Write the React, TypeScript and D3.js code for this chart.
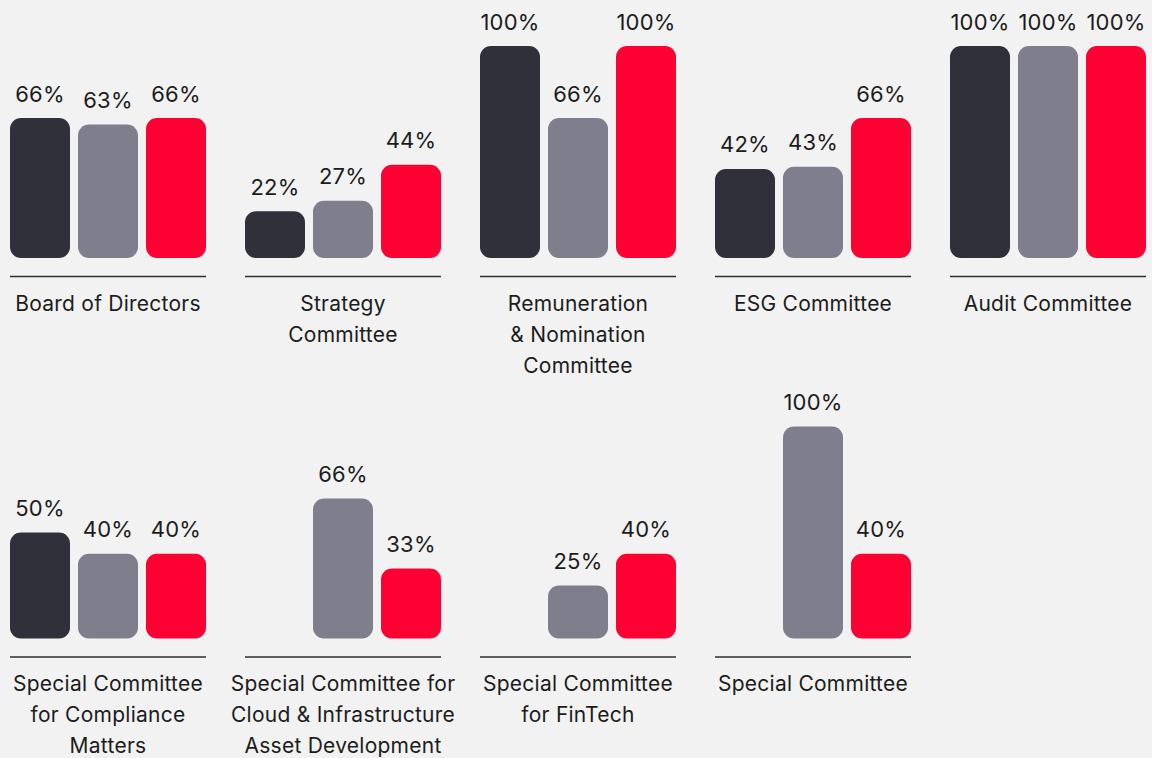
import React from "react";
import * as d3 from "d3";

const categories: string[][] = [
  ["Board of Directors"],
  ["Strategy", "Committee"],
  ["Remuneration", "& Nomination", "Committee"],
  ["ESG Committee"],
  ["Audit Committee"],
  ["Special Committee", "for Compliance", "Matters"],
  ["Special Committee for", "Cloud & Infrastructure", "Asset Development"],
  ["Special Committee", "for FinTech"],
  ["Special Committee"],
];

const seriesNames = ["A", "B", "C"];
const seriesA: (number | null)[] = [66, 22, 100, 42, 100, 50, null, null, null];
const seriesB: (number | null)[] = [63, 27, 66, 43, 100, 40, 66, 25, 100];
const seriesC: (number | null)[] = [66, 44, 100, 66, 100, 40, 33, 40, 40];
const seriesValues = [seriesA, seriesB, seriesC];
const colors = ["#30303a", "#7f7e8d", "#ff0033"];

const W = 1152;
const H = 758;
const FONT = "Inter, 'Noto Sans', sans-serif";

export default function App() {
  const perRow = 5;
  const groupW = 196;
  const pitch = 235;
  const left0 = 10;
  const rowBase = [258, 638.5];
  const barMax = 212;

  const x = d3
    .scaleBand<string>()
    .domain(seriesNames)
    .range([0, groupW])
    .paddingInner(8 / 68)
    .paddingOuter(0);
  const y = d3.scaleLinear().domain([0, 100]).range([0, barMax]);

  return (
    <svg
      width={W}
      height={H}
      style={{ position: "absolute", left: 0, top: 0, background: "#f2f2f2" }}
      fontFamily={FONT}
    >
      <rect x={0} y={0} width={W} height={H} fill="#f2f2f2" />
      {categories.map((lines, ci) => {
        const row = Math.floor(ci / perRow);
        const col = ci % perRow;
        const gx = left0 + col * pitch;
        const base = rowBase[row];
        return (
          <g key={ci} transform={`translate(${gx},0)`}>
            {seriesValues.map((vals, si) => {
              const v = vals[ci];
              if (v == null) return null;
              const bx = x(seriesNames[si])!;
              const bw = x.bandwidth();
              const h = y(v);
              return (
                <g key={si}>
                  <rect
                    x={bx}
                    y={base - h}
                    width={bw}
                    height={h}
                    rx={11}
                    ry={11}
                    fill={colors[si]}
                  />
                  <text
                    x={bx + bw / 2}
                    y={base - h - 16.5}
                    textAnchor="middle"
                    fontSize={22}
                    letterSpacing={0.2}
                    fill="#1c1c1c"
                  >
                    {v}%
                  </text>
                </g>
              );
            })}
            <line
              x1={0}
              x2={groupW}
              y1={base + 18.5}
              y2={base + 18.5}
              stroke="#2e2e2e"
              strokeWidth={1.6}
            />
            {lines.map((t, li) => (
              <text
                key={li}
                x={groupW / 2}
                y={base + 52.5 + li * 31}
                textAnchor="middle"
                fontSize={21}
                letterSpacing={0.25}
                fill="#1c1c1c"
              >
                {t}
              </text>
            ))}
          </g>
        );
      })}
    </svg>
  );
}
